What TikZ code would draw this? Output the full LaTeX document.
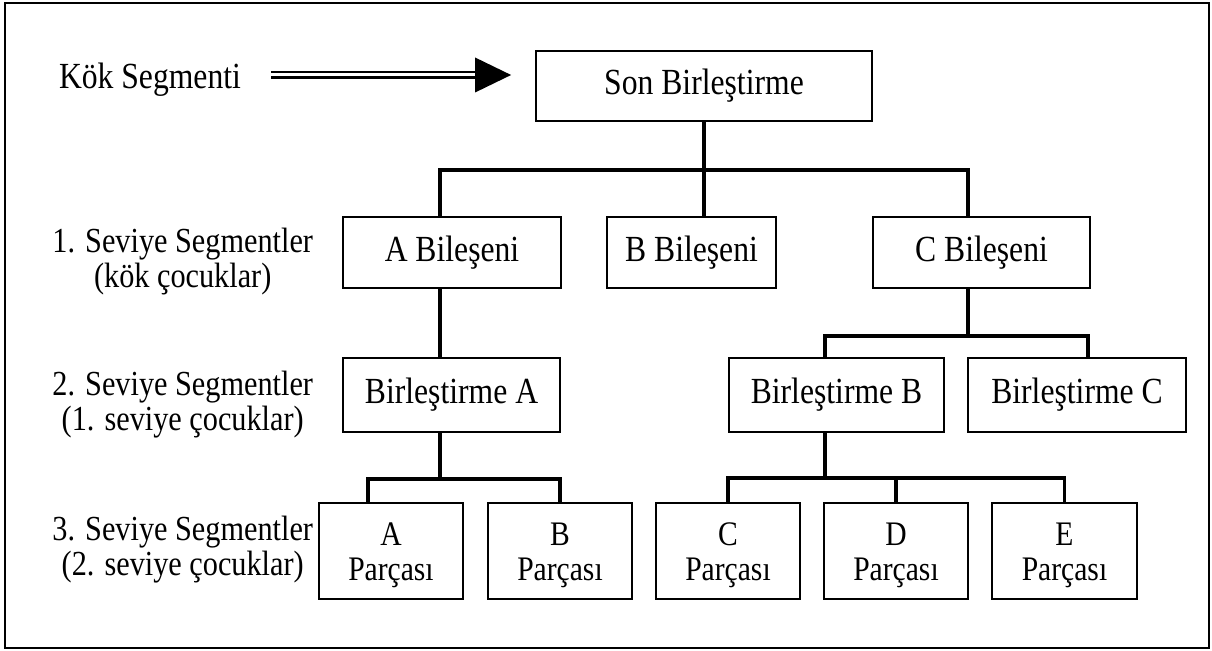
\documentclass[tikz,border=0pt]{standalone}
\usepackage{fontspec}
\setmainfont{Liberation Serif}[FakeStretch=0.86]
\begin{document}
\begin{tikzpicture}[x=0.5pt,y=-0.5pt,
  box/.style={draw, line width=0.9pt, inner sep=0pt, font=\fontsize{18.4}{17.5}\selectfont},
  part/.style={draw, line width=0.9pt, inner sep=0pt, minimum width=72pt, minimum height=48pt},
  ptext/.style={align=center, inner sep=0pt, font=\fontsize{17.2}{17.5}\selectfont},
  rowone/.style={box, minimum height=35.5pt},
  rowtwo/.style={box, minimum height=37pt},
  conn/.style={line width=1.9pt},
  lbl/.style={align=center, inner sep=0pt, font=\fontsize{17.6}{17.5}\selectfont},
  dbl/.style={line width=1.1pt, double distance=1.5pt}]
\useasboundingbox (0,0) rectangle (1212,651);
% outer frame
\draw[line width=1.1pt] (5,3) rectangle (1209,648);

% level labels
\node[lbl, font=\fontsize{18.4}{17.5}\selectfont] (kok) at (150,80) {Kök Segmenti};
\node[lbl, anchor=west] (l1) at (52,262) {1. Seviye Segmentler\\(kök çocuklar)};
\node[lbl, anchor=west] (l2) at (52,405) {2. Seviye Segmentler\\(1. seviye çocuklar)};
\node[lbl, anchor=west] (l3) at (52,550) {3. Seviye Segmentler\\(2. seviye çocuklar)};

% root
\node[box, minimum width=168pt, minimum height=35pt] (son) at (704,86) {Son Birleştirme};

% level 1
\node[rowone, minimum width=109pt] (a1) at (452,252.5) {A Bileşeni};
\node[rowone, minimum width=84.5pt] (b1) at (691.5,252.5) {B Bileşeni};
\node[rowone, minimum width=108.5pt] (c1) at (981.5,252.5) {C Bileşeni};

% level 2
\node[rowtwo, minimum width=108.5pt] (a2) at (451.5,395) {Birleştirme A};
\node[rowtwo, minimum width=107.5pt] (b2) at (836.5,395) {Birleştirme B};
\node[rowtwo, minimum width=109pt] (c2) at (1077,395) {Birleştirme C};

% level 3
\node[part] (a3) at (391,551) {};
\node[part] (b3) at (560,551) {};
\node[part] (c3) at (728,551) {};
\node[part] (d3) at (896,551) {};
\node[part, minimum width=72.5pt] (e3) at (1064.5,551) {};
\node[ptext] (ta3) at ([yshift=-2pt]a3.center) {A\\Parçası};
\node[ptext] (tb3) at ([yshift=-2pt]b3.center) {B\\Parçası};
\node[ptext] (tc3) at ([yshift=-2pt]c3.center) {C\\Parçası};
\node[ptext] (td3) at ([yshift=-2pt]d3.center) {D\\Parçası};
\node[ptext] (te3) at ([yshift=-2pt]e3.center) {E\\Parçası};

% root arrow
\coordinate (hb) at ([xshift=-30pt,yshift=2.5pt]kok.east -| son.west);
\draw[dbl] ([xshift=15pt,yshift=2.5pt]kok.east) -- (hb);
\fill (hb) -- ++(0,-17.5) -- ++(36,17.5) -- ++(-36,17.5) -- cycle;

% junction points
\coordinate (j1) at (704,170);
\coordinate (j2) at (968,336);
\coordinate (j3) at (440,479);
\coordinate (j4) at (825,478);

% root to level 1
\draw[conn] (son.south) -- (son.south |- b1.north);
\draw[conn] ([xshift=-6pt]a1.north) |- (j1) -| ([xshift=-6.75pt]c1.north);

% level 1 to level 2
\draw[conn] ([xshift=-6pt]a1.south) -- ([xshift=-6pt]a1.south |- a2.north);
\draw[conn] ([xshift=-6.75pt]c1.south) -- (j2);
\draw[conn] ([xshift=-5.75pt]b2.north) |- (j2) -| ([xshift=5.5pt]c2.north);

% level 2 to level 3
\draw[conn] ([xshift=-5.75pt]a2.south) -- (j3);
\draw[conn] ([xshift=-11.5pt]a3.north) |- (j3) -| (b3.north);
\draw[conn] ([xshift=-5.75pt]b2.south) -- (j4);
\draw[conn] (c3.north) |- (j4) -| (e3.north);
\draw[conn] (d3.north) -- (d3.north |- j4);
\end{tikzpicture}
\end{document}
